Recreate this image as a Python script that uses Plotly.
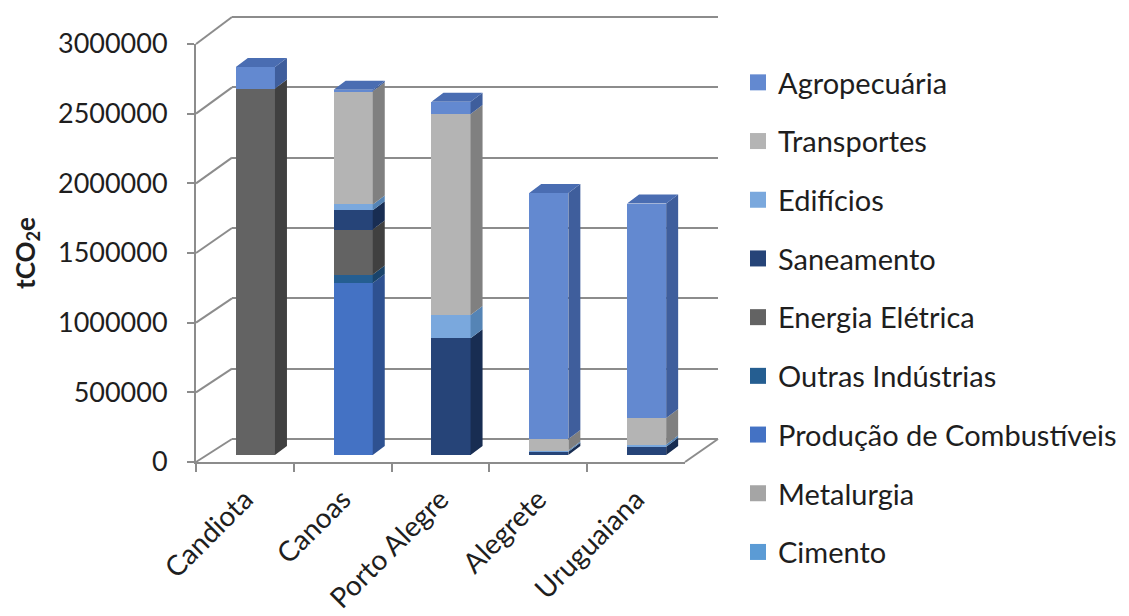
import plotly.graph_objects as go

# ---------------- data ----------------
CITIES = ["Candiota", "Canoas", "Porto Alegre", "Alegrete", "Uruguaiana"]

# stacking order bottom -> top
SERIES = [
    "Cimento", "Metalurgia", "Produção de Combustíveis", "Outras Indústrias",
    "Energia Elétrica", "Saneamento", "Edifícios", "Transportes", "Agropecuária",
]
cimento      = [0, 0, 0, 0, 0]
metalurgia   = [0, 0, 0, 0, 0]
producao     = [0, 1235000, 0, 0, 0]
outras       = [0, 60000, 0, 0, 0]
energia      = [2630000, 323000, 0, 0, 0]
saneamento   = [0, 139000, 838000, 24000, 60000]
edificios    = [0, 41000, 167000, 8000, 15000]
transportes  = [0, 813000, 1443000, 82000, 190000]
agropecuaria = [155000, 10000, 88000, 1766000, 1540000]
VALUES = [cimento, metalurgia, producao, outras, energia,
          saneamento, edificios, transportes, agropecuaria]

Y_TICKS = [0, 500000, 1000000, 1500000, 2000000, 2500000, 3000000]
Y_MAX = 3000000

# front, side, top colours per series
COLORS = {
    "Cimento":                  ("#5B9BD5", "#3F74A6", "#4C87BE"),
    "Metalurgia":               ("#A5A5A5", "#7A7A7A", "#8E8E8E"),
    "Produção de Combustíveis": ("#4472C4", "#2E5191", "#3A62AA"),
    "Outras Indústrias":        ("#255E91", "#1A446B", "#20507D"),
    "Energia Elétrica":         ("#636363", "#404040", "#525252"),
    "Saneamento":               ("#264478", "#182D52", "#1F3965"),
    "Edifícios":                ("#7AA8DD", "#5584B5", "#6796C9"),
    "Transportes":              ("#B4B4B4", "#808080", "#999999"),
    "Agropecuária":             ("#6389D0", "#3F5E9C", "#4A6DB2"),
}

# ---------------- geometry (pixels) ----------------
W, H = 1129, 616
FRONT = dict(x0=196, x1=685, yb=462, yt=44)       # front plane (axes)
BACK = dict(x0=232, x1=718, yb=439, yt=17)        # back wall (gridlines)
BARP = dict(x0=206.5, x1=695.5, yb=455, yt=37)    # bar front-face plane
DEPTH_X, DEPTH_Y = 12, 9                          # bar depth in pixels
BAR_W = 0.40
GRID = "#8C8C8C"
TXT = "#1E1E1E"
FONT = "Lato"
FS = 27
FS_LEG = 29
BACK_PAD = 1.02   # extra range so the top back gridline is not at the edge


def dom_x(p):
    return [p["x0"] / W, p["x1"] / W]


def dom_y(p, pad=1.0):
    top = p["yb"] - (p["yb"] - p["yt"]) * pad
    return [(H - p["yb"]) / H, (H - top) / H]


def py_to_paper(ypx):
    return (H - ypx) / H


fig = go.Figure()

n = len(CITIES)
xs = list(range(n))
dx = DEPTH_X / ((BARP["x1"] - BARP["x0"]) / n)
dy = DEPTH_Y * Y_MAX / (BARP["yb"] - BARP["yt"])

# bars (front faces)
for name, vals in zip(SERIES, VALUES):
    fig.add_trace(go.Bar(
        x=xs, y=vals, width=BAR_W, name=name, showlegend=False,
        marker=dict(color=COLORS[name][0], line=dict(width=0)),
        xaxis="x3", yaxis="y3", hoverinfo="skip",
    ))

# side faces and top caps, computed from the stacked values
base = [0] * n
tops = [None] * n
side_polys = {s: ([], []) for s in SERIES}
for name, vals in zip(SERIES, VALUES):
    sx, sy = side_polys[name]
    for i in range(n):
        v = vals[i]
        if v <= 0:
            continue
        b, t = base[i], base[i] + v
        xr = xs[i] + BAR_W / 2
        sx += [xr, xr + dx, xr + dx, xr, xr, None]
        sy += [b, b + dy, t + dy, t, b, None]
        base[i] = t
        tops[i] = name
for name in SERIES:
    sx, sy = side_polys[name]
    if sx:
        fig.add_trace(go.Scatter(
            x=sx, y=sy, mode="lines", fill="toself", line=dict(width=0),
            fillcolor=COLORS[name][1], showlegend=False, hoverinfo="skip",
            xaxis="x3", yaxis="y3",
        ))
for name in SERIES:
    cx, cy = [], []
    for i in range(n):
        if tops[i] != name:
            continue
        xl, xr, T = xs[i] - BAR_W / 2, xs[i] + BAR_W / 2, base[i]
        cx += [xl, xl + dx, xr + dx, xr, xl, None]
        cy += [T, T + dy, T + dy, T, T, None]
    if cx:
        fig.add_trace(go.Scatter(
            x=cx, y=cy, mode="lines", fill="toself", line=dict(width=0),
            fillcolor=COLORS[name][2], showlegend=False, hoverinfo="skip",
            xaxis="x3", yaxis="y3",
        ))

# invisible traces so the front and back axes exist
fig.add_trace(go.Scatter(x=CITIES, y=[0] * n, mode="markers",
                         marker=dict(opacity=0), showlegend=False,
                         hoverinfo="skip", xaxis="x", yaxis="y"))
fig.add_trace(go.Scatter(x=[0], y=[0], mode="markers",
                         marker=dict(opacity=0), showlegend=False,
                         hoverinfo="skip", xaxis="x2", yaxis="y2"))

# legend entries (top series first)
for k, name in enumerate(reversed(SERIES)):
    fig.add_trace(go.Scatter(
        x=[None], y=[None], mode="markers", name=name, legendgroup=f"g{k}",
        marker=dict(symbol="square", size=16, color=COLORS[name][0]),
        xaxis="x3", yaxis="y3",
    ))

# diagonal side-wall gridlines and floor edges
shapes = []
def fy(v, p):
    return p["yb"] - v / Y_MAX * (p["yb"] - p["yt"])
for v in Y_TICKS:
    shapes.append(dict(type="line", xref="paper", yref="paper",
                       x0=FRONT["x0"] / W, y0=py_to_paper(fy(v, FRONT)),
                       x1=BACK["x0"] / W, y1=py_to_paper(fy(v, BACK)),
                       line=dict(color=GRID, width=2), layer="below"))
shapes.append(dict(type="line", xref="paper", yref="paper",
                   x0=FRONT["x1"] / W, y0=py_to_paper(FRONT["yb"]),
                   x1=BACK["x1"] / W, y1=py_to_paper(BACK["yb"]),
                   line=dict(color=GRID, width=2), layer="below"))

fig.update_layout(
    width=W, height=H,
    margin=dict(l=0, r=0, t=0, b=0, autoexpand=False),
    paper_bgcolor="white", plot_bgcolor="rgba(0,0,0,0)",
    barmode="stack",
    font=dict(family=FONT, size=FS, color=TXT),
    shapes=shapes,
    showlegend=True,
    legend=dict(
        x=738 / W, y=py_to_paper(57), xanchor="left", yanchor="top",
        font=dict(family=FONT, size=FS_LEG, color=TXT),
        traceorder="grouped", tracegroupgap=18,
        bgcolor="rgba(0,0,0,0)",
    ),
    xaxis=dict(
        domain=dom_x(FRONT), anchor="y", type="category",
        categoryorder="array", categoryarray=CITIES, range=[-0.5, n - 0.5],
        tickson="boundaries", ticks="outside", ticklen=8, tickwidth=2,
        tickcolor=GRID, showline=True, linecolor=GRID, linewidth=2,
        showgrid=False, zeroline=False, tickangle=-45, automargin=False,
        ticklabelstandoff=8,
        tickfont=dict(family=FONT, size=28, color=TXT),
    ),
    yaxis=dict(
        domain=dom_y(FRONT), anchor="x", range=[0, Y_MAX],
        tickvals=Y_TICKS, tickformat="d", ticks="outside", ticklen=7,
        tickwidth=2, tickcolor=GRID, showline=True, linecolor=GRID,
        linewidth=2, showgrid=False, zeroline=False, ticklabelstandoff=14,
        automargin=False,
        tickfont=dict(family=FONT, size=FS, color=TXT),
        title=dict(text="<b>tCO<sub>2</sub>e</b>", standoff=15,
                   font=dict(family=FONT, size=26, color=TXT)),
    ),
    xaxis2=dict(
        domain=dom_x(BACK), anchor="y2", range=[-0.5, n - 0.5],
        showgrid=False, showline=False, zeroline=False, showticklabels=False,
        ticks="", automargin=False,
    ),
    yaxis2=dict(
        domain=dom_y(BACK, BACK_PAD), anchor="x2", range=[0, Y_MAX * BACK_PAD],
        tickvals=Y_TICKS, showgrid=True, gridcolor=GRID, gridwidth=2,
        zeroline=True, zerolinecolor=GRID, zerolinewidth=2,
        showline=False, showticklabels=False, ticks="", automargin=False,
    ),
    xaxis3=dict(
        domain=dom_x(BARP), anchor="y3", range=[-0.5, n - 0.5],
        showgrid=False, showline=False, zeroline=False, showticklabels=False,
        ticks="", automargin=False,
    ),
    yaxis3=dict(
        domain=dom_y(BARP), anchor="x3", range=[0, Y_MAX],
        showgrid=False, showline=False, zeroline=False, showticklabels=False,
        ticks="", automargin=False,
    ),
)

fig.write_html("out.html")
